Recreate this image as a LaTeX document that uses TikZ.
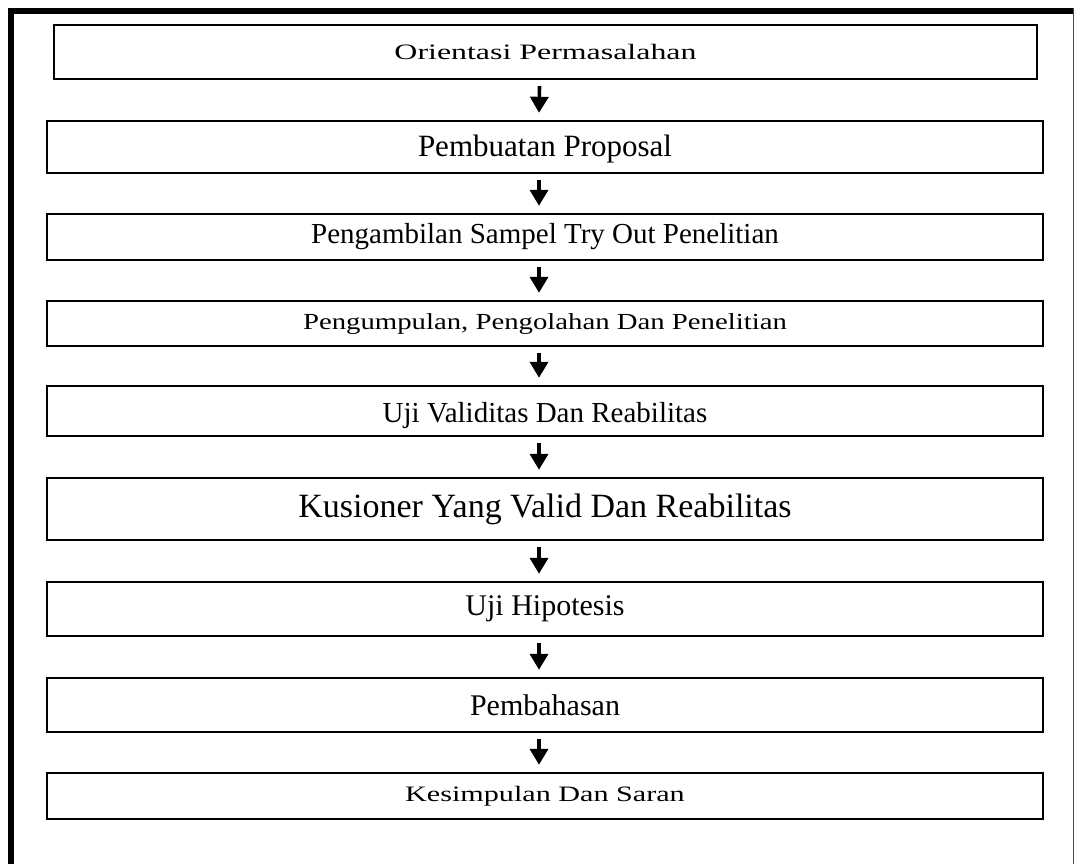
\documentclass[tikz,border=0pt]{standalone}
\usepackage{fontspec}
\setmainfont{Liberation Serif}
\newfontfamily\wideA[FakeStretch=1.45]{Liberation Serif}
\newfontfamily\wideB[FakeStretch=1.25]{Liberation Serif}
\newfontfamily\wideC[FakeStretch=1.37]{Liberation Serif}
\usetikzlibrary{arrows.meta}
\begin{document}
\begin{tikzpicture}[x=1pt,y=-1pt,
  stepbox/.style={draw, line width=2.4pt, inner sep=0pt, minimum width=996pt},
  arr/.style={line width=3.6pt, -{Triangle[width=18pt,length=16pt]}},
  fs/.style={font=\fontsize{#1}{#1}\selectfont}]
\useasboundingbox (0,0) rectangle (1075,864);
\fill[black] (8,8) rectangle (1073,14);
\fill[black] (8,8) rectangle (14,864);
\draw[line width=1pt, black!70] (1073,8) -- (1073,864);

\node[stepbox, minimum width=983pt, minimum height=54pt, fs=22] (b1) at (545.5,52) {\wideA Orientasi Permasalahan\hspace{10pt}};
\node[stepbox, minimum height=52pt, fs=31] (b2) at (545,147) {\raisebox{-2pt}[\height][\depth]{Pembuatan Proposal}\hspace{10pt}};
\node[stepbox, minimum height=46pt, fs=29] (b3) at (545,237) {Pengambilan Sampel Try Out Penelitian\hspace{56pt}};
\node[stepbox, minimum height=45pt, fs=23] (b4) at (545,323.5) {\wideB Pengumpulan, Pengolahan Dan Penelitian\hspace{10pt}};
\node[stepbox, minimum height=50pt, fs=29] (b5) at (545,411) {\raisebox{-5pt}[\height][\depth]{Uji Validitas Dan Reabilitas}\hspace{10pt}};
\node[stepbox, minimum height=62pt, fs=34] (b6) at (545,509) {Kusioner Yang Valid Dan Reabilitas\hspace{10pt}};
\node[stepbox, minimum height=54pt, fs=30] (b7) at (545,609) {Uji Hipotesis\hspace{10pt}};
\node[stepbox, minimum height=54pt, fs=30] (b8) at (545,705) {Pembahasan\hspace{10pt}};
\node[stepbox, minimum height=46pt, fs=22] (b9) at (545,796) {\wideC Kesimpulan Dan Saran\hspace{10pt}};

\foreach \a/\b in {b1/b2,b2/b3,b3/b4,b4/b5,b5/b6,b6/b7,b7/b8,b8/b9}
  \draw[arr] ([xshift=-6pt,yshift=-6pt]\a.south) -- ([xshift=-6pt,yshift=7pt]\b.north);
\end{tikzpicture}
\end{document}
